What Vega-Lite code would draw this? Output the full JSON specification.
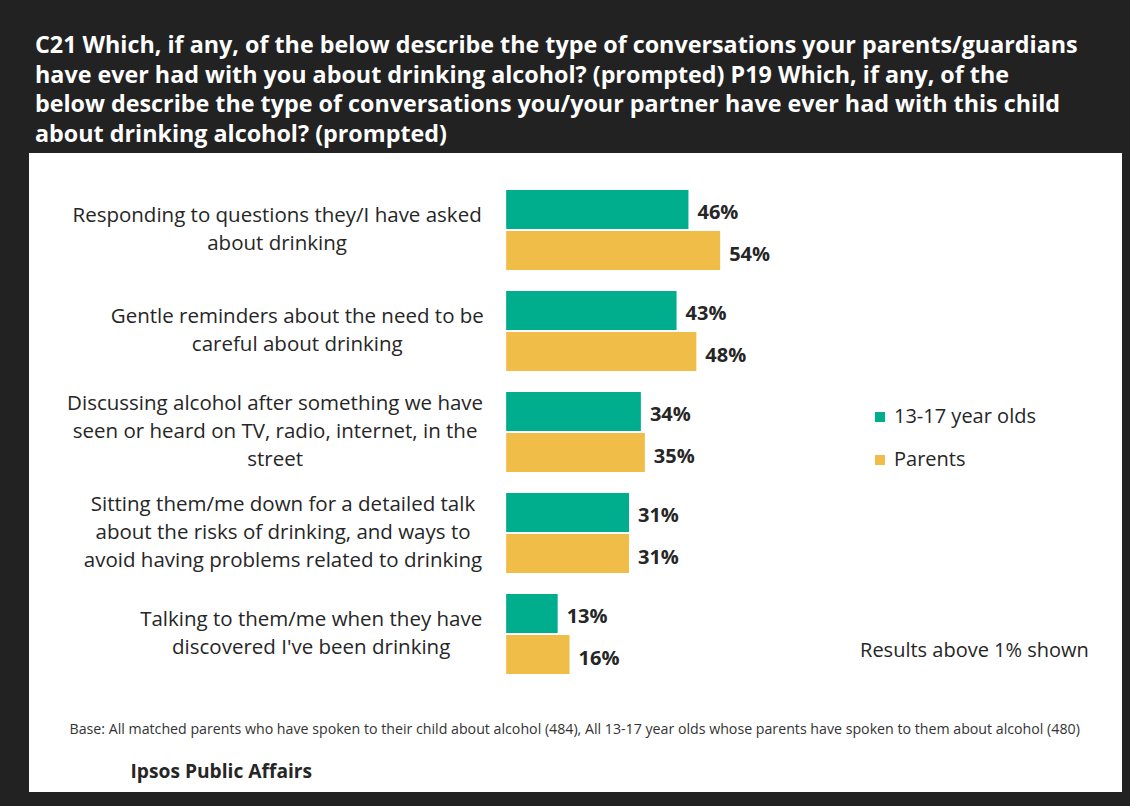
{
  "$schema": "https://vega.github.io/schema/vega-lite/v6.json",
  "autosize": "none",
  "width": 1093,
  "height": 639,
  "padding": {"left": 29, "top": 153, "right": 8, "bottom": 14},
  "background": "#222222",
  "config": {"view": {"fill": "white", "stroke": null}, "font": "Open Sans"},
  "title": {
    "text": [
      "C21 Which, if any, of the below describe the type of conversations your parents/guardians",
      "have ever had with you about drinking alcohol? (prompted) P19 Which, if any, of the",
      "below describe the type of conversations you/your partner have ever had with this child",
      "about drinking alcohol? (prompted)"
    ],
    "anchor": "start",
    "color": "white",
    "fontSize": 23.3,
    "fontWeight": "bold",
    "font": "Open Sans",
    "lineHeight": 29.5,
    "offset": 6,
    "dx": 6
  },
  "data": {
    "values": [
      {"item": "Responding to questions they/I have asked\nabout drinking", "group": "13-17 year olds", "value": 0.46},
      {"item": "Responding to questions they/I have asked\nabout drinking", "group": "Parents", "value": 0.54},
      {"item": "Gentle reminders about the need to be\ncareful about drinking", "group": "13-17 year olds", "value": 0.43},
      {"item": "Gentle reminders about the need to be\ncareful about drinking", "group": "Parents", "value": 0.48},
      {"item": "Discussing alcohol after something we have\nseen or heard on TV, radio, internet, in the\nstreet", "group": "13-17 year olds", "value": 0.34},
      {"item": "Discussing alcohol after something we have\nseen or heard on TV, radio, internet, in the\nstreet", "group": "Parents", "value": 0.35},
      {"item": "Sitting them/me down for a detailed talk\nabout the risks of drinking, and ways to\navoid having problems related to drinking", "group": "13-17 year olds", "value": 0.31},
      {"item": "Sitting them/me down for a detailed talk\nabout the risks of drinking, and ways to\navoid having problems related to drinking", "group": "Parents", "value": 0.31},
      {"item": "Talking to them/me when they have\ndiscovered I've been drinking", "group": "13-17 year olds", "value": 0.13},
      {"item": "Talking to them/me when they have\ndiscovered I've been drinking", "group": "Parents", "value": 0.16}
    ]
  },
  "encoding": {
    "y": {
      "field": "item",
      "type": "nominal",
      "sort": null,
      "scale": {
        "domain": [
          "Responding to questions they/I have asked\nabout drinking",
          "Gentle reminders about the need to be\ncareful about drinking",
          "Discussing alcohol after something we have\nseen or heard on TV, radio, internet, in the\nstreet",
          "Sitting them/me down for a detailed talk\nabout the risks of drinking, and ways to\navoid having problems related to drinking",
          "Talking to them/me when they have\ndiscovered I've been drinking"
        ],
        "range": [26.5, 531.5],
        "paddingInner": 0.208,
        "paddingOuter": 0.104
      },
      "axis": {
        "labels": false,
        "ticks": false,
        "domain": false,
        "grid": false,
        "title": "Ipsos Public Affairs",
        "titleAngle": 0,
        "titleX": 101,
        "titleY": 618,
        "titleAlign": "left",
        "titleBaseline": "middle",
        "titleFontSize": 19.2,
        "titleFontWeight": "bold",
        "titleColor": "#262626"
      }
    }
  },
  "layer": [
    {
      "mark": {"type": "bar"},
      "encoding": {
        "yOffset": {"field": "group", "type": "nominal", "sort": null, "scale": {"paddingInner": 0.05, "paddingOuter": 0}},
        "x": {
          "field": "value",
          "type": "quantitative",
          "scale": {"domain": [-1.204, 1.554], "nice": false, "zero": false},
          "axis": {
            "labels": false,
            "ticks": false,
            "domain": false,
            "grid": false,
            "title": "Base:  All matched parents who have spoken to their child about alcohol (484), All 13-17 year olds whose parents have spoken to them about alcohol (480)",
            "titleX": 40,
            "titleY": -63,
            "titleAlign": "left",
            "titleBaseline": "middle",
            "titleFontSize": 14.2,
            "titleFontWeight": "normal",
            "titleColor": "#333333"
          }
        },
        "x2": {"datum": 0},
        "color": {
          "field": "group",
          "type": "nominal",
          "scale": {"domain": ["13-17 year olds", "Parents"], "range": ["#00AE8E", "#F0BE48"]},
          "legend": {
            "orient": "none",
            "legendX": 841,
            "legendY": 254,
            "title": null,
            "symbolType": "square",
            "symbolSize": 100,
            "symbolStrokeWidth": 0,
            "labelFontSize": 20,
            "labelColor": "#262626",
            "labelOffset": 4,
            "rowPadding": 23,
            "padding": 0
          }
        }
      }
    },
    {
      "mark": {"type": "text", "align": "left", "baseline": "middle", "dx": 9, "dy": 4, "fontSize": 20, "fontWeight": "bold", "color": "#262626"},
      "encoding": {
        "yOffset": {"field": "group", "type": "nominal", "sort": null},
        "x": {"field": "value", "type": "quantitative"},
        "text": {"field": "value", "type": "quantitative", "format": ".0%"}
      }
    },
    {
      "transform": [
        {"filter": {"field": "group", "equal": "Parents"}},
        {"filter": {"field": "item", "equal": "Responding to questions they/I have asked\nabout drinking"}}
      ],
      "mark": {"type": "text", "align": "center", "baseline": "middle", "lineBreak": "\n", "lineHeight": 28, "dy": -14, "fontSize": 20.5, "color": "#262626"},
      "encoding": {"x": {"datum": -0.578}, "text": {"field": "item", "type": "nominal"}}
    },
    {
      "transform": [
        {"filter": {"field": "group", "equal": "Parents"}},
        {"filter": {"field": "item", "equal": "Gentle reminders about the need to be\ncareful about drinking"}}
      ],
      "mark": {"type": "text", "align": "center", "baseline": "middle", "lineBreak": "\n", "lineHeight": 28, "dy": -14, "fontSize": 20.5, "color": "#262626"},
      "encoding": {"x": {"datum": -0.527}, "text": {"field": "item", "type": "nominal"}}
    },
    {
      "transform": [
        {"filter": {"field": "group", "equal": "Parents"}},
        {"filter": {"field": "item", "equal": "Discussing alcohol after something we have\nseen or heard on TV, radio, internet, in the\nstreet"}}
      ],
      "mark": {"type": "text", "align": "center", "baseline": "middle", "lineBreak": "\n", "lineHeight": 28, "dy": -28, "fontSize": 20.5, "color": "#262626"},
      "encoding": {"x": {"datum": -0.583}, "text": {"field": "item", "type": "nominal"}}
    },
    {
      "transform": [
        {"filter": {"field": "group", "equal": "Parents"}},
        {"filter": {"field": "item", "equal": "Sitting them/me down for a detailed talk\nabout the risks of drinking, and ways to\navoid having problems related to drinking"}}
      ],
      "mark": {"type": "text", "align": "center", "baseline": "middle", "lineBreak": "\n", "lineHeight": 28, "dy": -28, "fontSize": 20.5, "color": "#262626"},
      "encoding": {"x": {"datum": -0.563}, "text": {"field": "item", "type": "nominal"}}
    },
    {
      "transform": [
        {"filter": {"field": "group", "equal": "Parents"}},
        {"filter": {"field": "item", "equal": "Talking to them/me when they have\ndiscovered I've been drinking"}}
      ],
      "mark": {"type": "text", "align": "center", "baseline": "middle", "lineBreak": "\n", "lineHeight": 28, "dy": -14, "fontSize": 20.5, "color": "#262626"},
      "encoding": {"x": {"datum": -0.492}, "text": {"field": "item", "type": "nominal"}}
    },
    {
      "data": {"values": [{"note": "Results above 1% shown"}]},
      "mark": {"type": "text", "align": "left", "baseline": "middle", "dy": 17, "fontSize": 20, "color": "#262626"},
      "encoding": {
        "x": {"datum": 0.893},
        "y": {"datum": "Talking to them/me when they have\ndiscovered I've been drinking"},
        "text": {"field": "note", "type": "nominal"}
      }
    }
  ]
}
